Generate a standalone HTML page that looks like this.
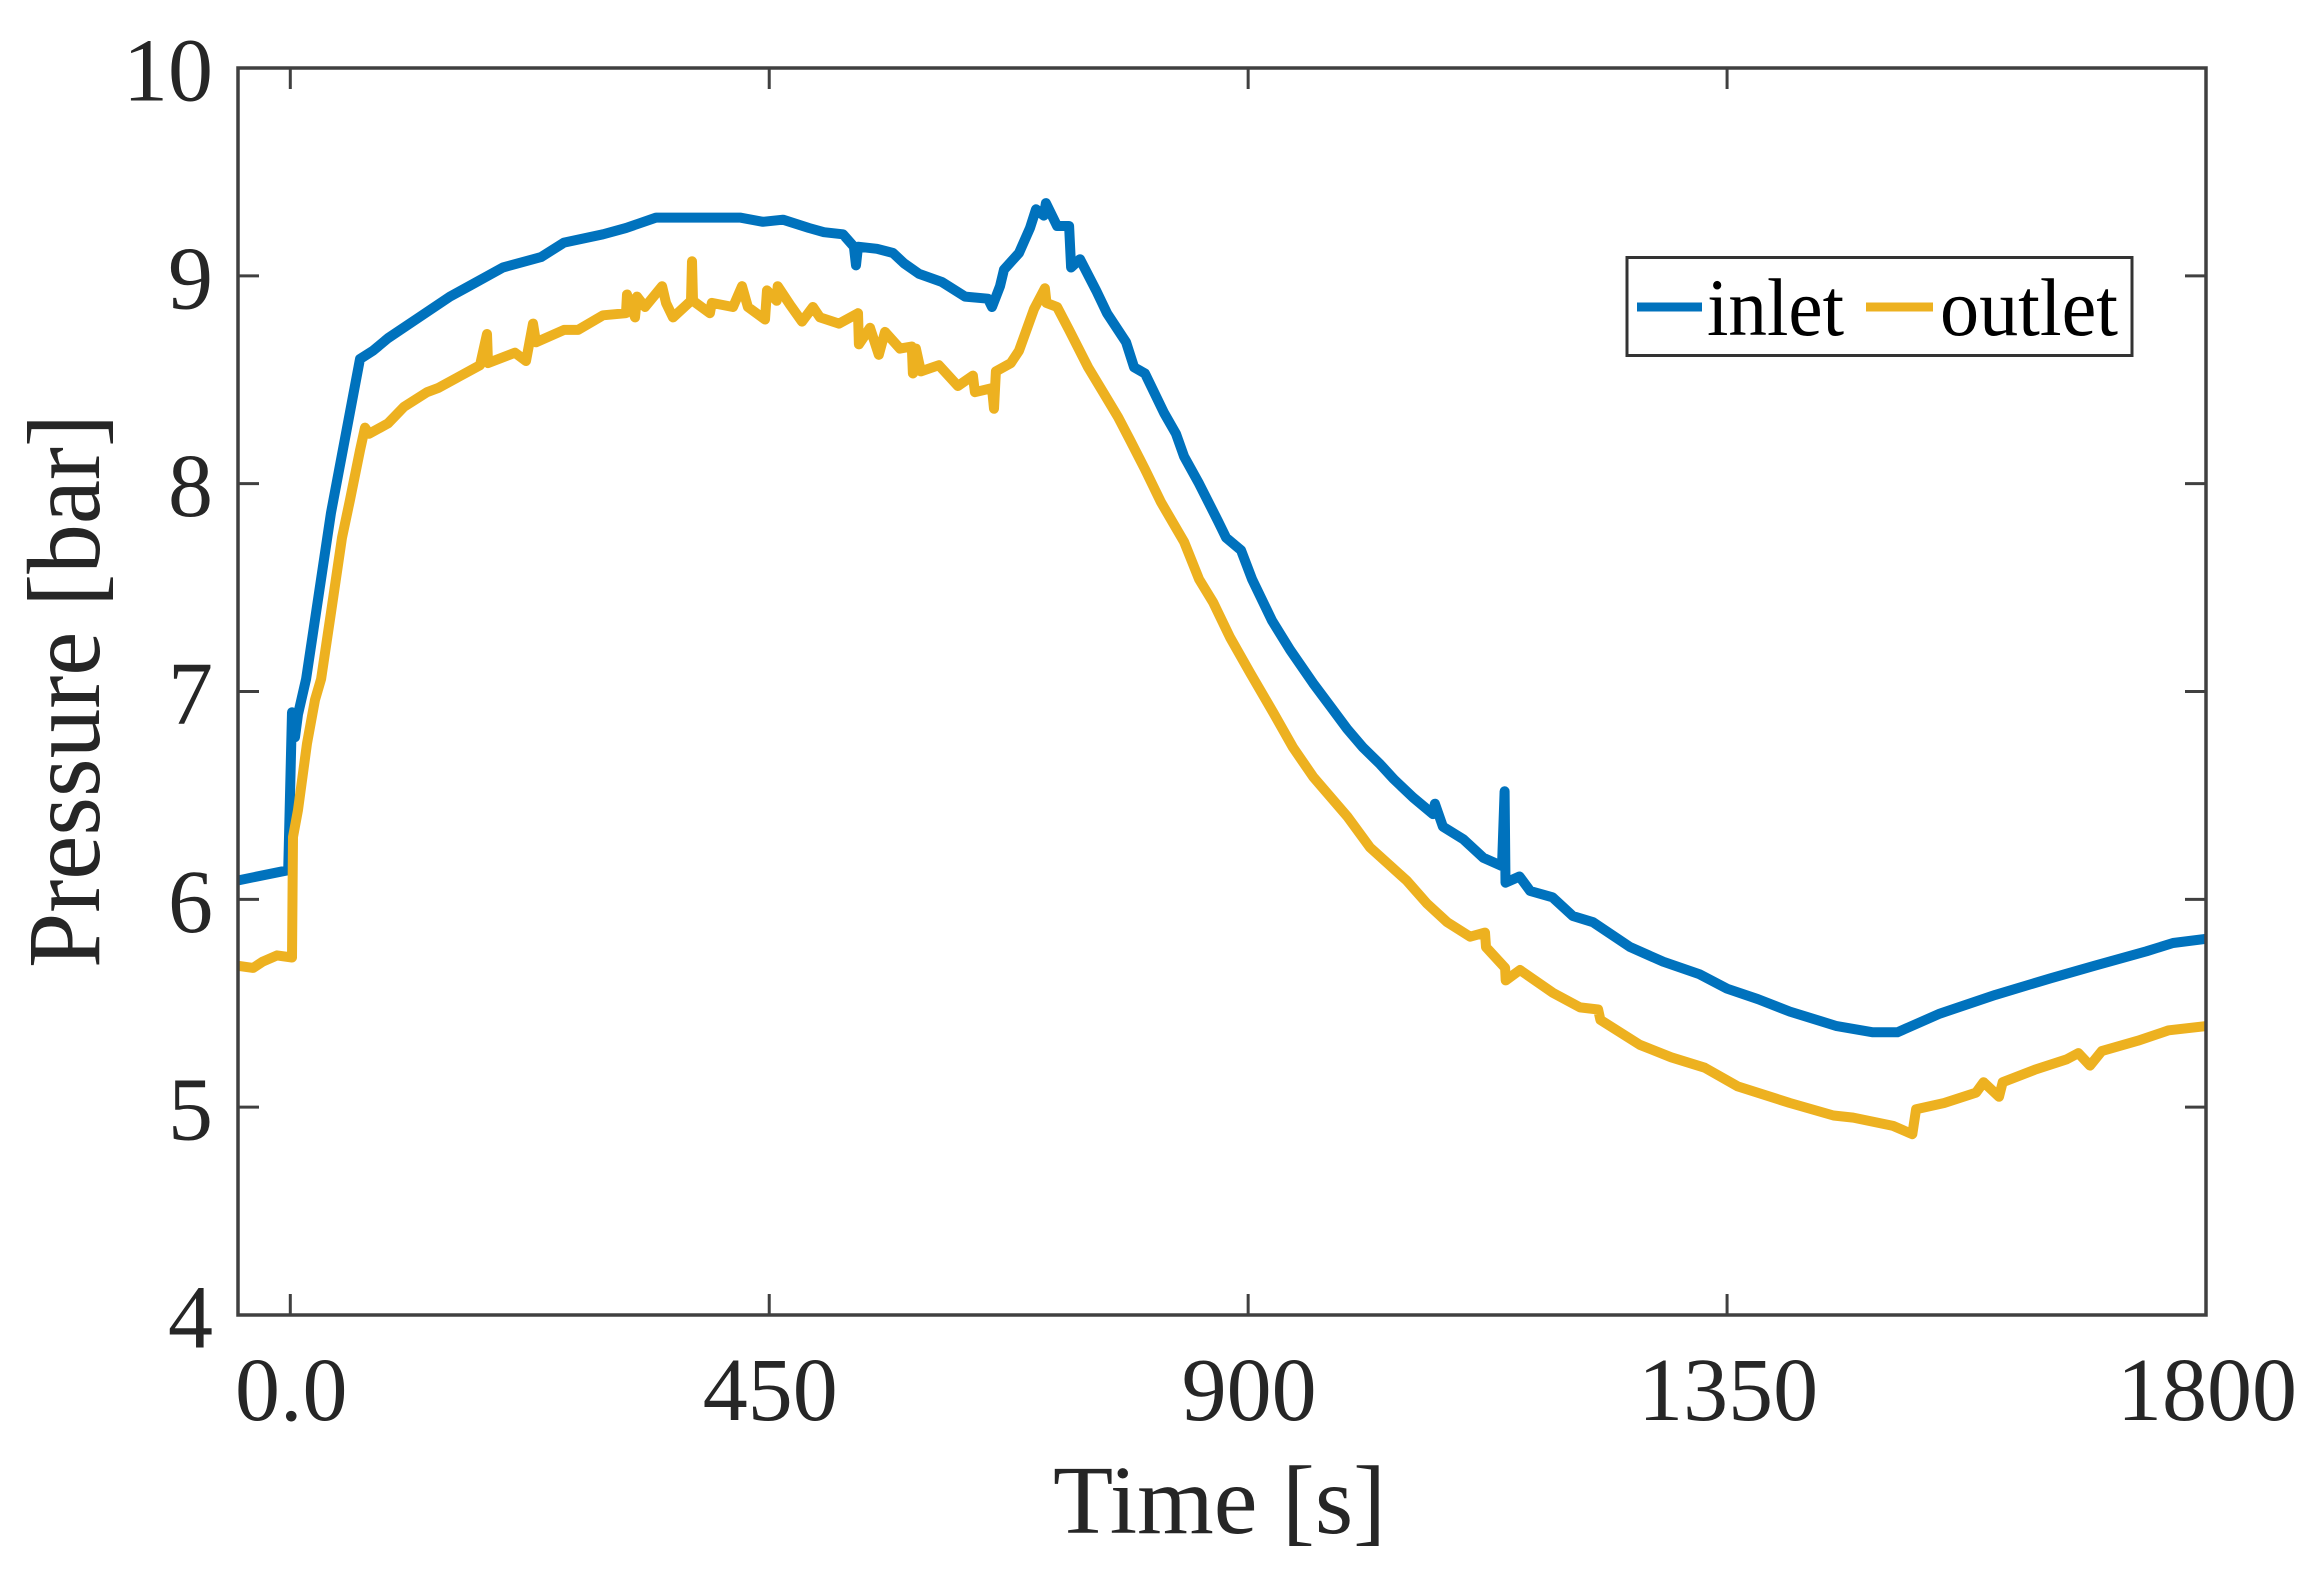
<!DOCTYPE html>
<html lang="en">
<head>
<meta charset="utf-8">
<title>Pressure vs Time</title>
<style>
  html, body { margin: 0; padding: 0; background: #fff; }
  svg { display: block; }
  text { font-family: "Liberation Serif", serif; }
</style>
</head>
<body>
<svg id="chart" xmlns="http://www.w3.org/2000/svg" width="2323" height="1593" viewBox="0 0 2323 1593">
  <rect x="0" y="0" width="2323" height="1593" fill="#ffffff"/>
  <defs>
    <clipPath id="plot-clip"><rect x="238" y="68" width="1968" height="1247"/></clipPath>
  </defs>
  <g id="series" clip-path="url(#plot-clip)"></g>
  <g id="axes"></g>
  <text transform="translate(99,691) rotate(-90)" text-anchor="middle" font-size="104" fill="#262626" textLength="554" lengthAdjust="spacingAndGlyphs">Pressure [bar]</text>
  <text x="1219.5" y="1533" text-anchor="middle" font-size="97" fill="#262626" textLength="333" lengthAdjust="spacingAndGlyphs">Time [s]</text>
  <g>
    <rect x="1627" y="257.5" width="505" height="98" fill="#ffffff" stroke="#333333" stroke-width="3"/>
    <line x1="1637" y1="307" x2="1702" y2="307" stroke="#0072BD" stroke-width="9"/>
    <text x="1707" y="335" font-size="82" fill="#000000" textLength="137" lengthAdjust="spacingAndGlyphs">inlet</text>
    <line x1="1866" y1="307" x2="1933" y2="307" stroke="#EDB120" stroke-width="9"/>
    <text x="1940" y="335" font-size="82" fill="#000000" textLength="178" lengthAdjust="spacingAndGlyphs">outlet</text>
  </g>
</svg>
<script>
const xTicks = [0, 450, 900, 1350, 1800];
const xTickLabels = ['0.0', '450', '900', '1350', '1800'];
const yTicks = [4, 5, 6, 7, 8, 9, 10];
const yTickLabels = ['4', '5', '6', '7', '8', '9', '10'];

const inletTime = [-50,-2,1.6,4.4,7.2,14.8,38.2,65.5,77.7,91.8,120.9,150,167.9,199.8,235.6,257.2,293.8,315.4,343.6,372.7,398.1,422.5,444.1,462.9,487.4,501.4,519.3,529.6,531.5,533.4,551.3,566.3,576.7,590.7,612.4,634,655.5,659.3,666.8,670.6,684.7,695,700.7,708,710,720.5,731.8,733.6,742,757.1,767.4,785.3,792.8,803.1,821,832.2,839.8,853.9,871.7,879.3,893.3,903.7,922.5,939.4,961,977,993,1008,1024,1036.5,1055,1073.7,1075.5,1083,1102,1121,1138.5,1141,1141.8,1155,1165,1186,1205,1224,1259,1290,1324,1350,1379,1409,1453,1487,1510,1550,1602,1654,1695,1744,1769,1800];
const inletPressure = [6.09,6.14,6.90,6.78,6.89,7.06,7.86,8.60,8.64,8.70,8.80,8.90,8.95,9.04,9.09,9.16,9.20,9.23,9.28,9.28,9.28,9.28,9.26,9.27,9.23,9.21,9.20,9.14,9.05,9.14,9.13,9.11,9.06,9.01,8.97,8.90,8.89,8.85,8.95,9.03,9.11,9.23,9.32,9.29,9.35,9.24,9.24,9.04,9.08,8.93,8.82,8.68,8.56,8.53,8.34,8.24,8.13,8.00,7.82,7.74,7.68,7.54,7.34,7.20,7.04,6.93,6.82,6.73,6.65,6.58,6.49,6.41,6.46,6.35,6.29,6.20,6.16,6.52,6.08,6.11,6.04,6.01,5.92,5.89,5.77,5.70,5.64,5.57,5.52,5.46,5.39,5.36,5.36,5.45,5.54,5.62,5.68,5.75,5.79,5.81];

const outletTime = [-49,-35,-26,-12.5,1.6,2.5,7.2,15.7,23.2,28.9,38.2,48.6,56,65.5,70.2,74,91.8,106.8,128.4,138.8,156.6,178.2,184.8,185.8,211.1,221.5,228,230.9,257.2,270.3,293.8,315.4,316.4,323.9,325.8,333.3,349.3,353,359.6,376.5,377.4,378.4,394.3,396,416,424.4,430,446,447.9,457,458,469.6,480.8,491,497.7,515.6,533.4,534.3,544.7,553,558.8,572.9,584,585,587.8,592.5,609.4,627.3,641.4,643.3,659.3,661.2,663,677,684.7,698.8,709,710.5,720.5,731.8,749.6,763.7,777.8,789,803,818.2,839.8,853.9,867,883,901.8,923.4,942.2,961,993,1014.5,1049,1068,1087,1108.5,1122.5,1123.5,1141.4,1142,1155.4,1186.4,1211.8,1228.8,1231,1268,1297.5,1329,1360,1409,1450,1468.5,1506,1524,1527.6,1554,1584,1591,1605.5,1609,1639,1669,1680,1691,1702,1736,1765,1800];
const outletPressure = [5.68,5.67,5.70,5.73,5.72,6.30,6.43,6.75,6.96,7.06,7.38,7.74,7.92,8.16,8.27,8.24,8.29,8.37,8.44,8.46,8.51,8.57,8.72,8.58,8.63,8.59,8.77,8.68,8.74,8.74,8.81,8.82,8.91,8.80,8.90,8.85,8.95,8.87,8.80,8.88,9.07,8.88,8.82,8.87,8.85,8.95,8.85,8.79,8.93,8.88,8.95,8.86,8.78,8.85,8.80,8.77,8.82,8.67,8.75,8.62,8.73,8.65,8.66,8.53,8.65,8.54,8.57,8.47,8.52,8.44,8.46,8.36,8.54,8.58,8.64,8.84,8.94,8.87,8.85,8.74,8.56,8.44,8.32,8.21,8.07,7.91,7.72,7.54,7.43,7.26,7.09,6.90,6.73,6.59,6.40,6.25,6.09,5.98,5.89,5.82,5.84,5.77,5.67,5.61,5.66,5.55,5.48,5.47,5.42,5.30,5.24,5.19,5.10,5.02,4.96,4.95,4.91,4.87,4.99,5.02,5.07,5.12,5.05,5.12,5.18,5.23,5.26,5.20,5.27,5.32,5.37,5.39];

const SVGNS = 'http://www.w3.org/2000/svg';
const plotLeft = 238, plotRight = 2206, plotTop = 68, plotBottom = 1315;
const tickLen = 21;

function xScale(t) { return 290.3 + t * (plotRight - 290.3) / 1800; }
function yScale(p) { return plotBottom - (p - 4) * (plotBottom - plotTop) / 6; }

function buildPoints(times, values) {
  return times.map(function (t, i) {
    return xScale(t).toFixed(1) + ',' + yScale(values[i]).toFixed(1);
  }).join(' ');
}

const seriesGroup = document.getElementById('series');
const axesGroup = document.getElementById('axes');

const inletLine = document.createElementNS(SVGNS, 'polyline');


inletLine.setAttribute('points', buildPoints(inletTime, inletPressure));
inletLine.setAttribute('fill', 'none');
inletLine.setAttribute('stroke', '#0072BD');
inletLine.setAttribute('stroke-width', '10');
inletLine.setAttribute('stroke-linejoin', 'round');
inletLine.setAttribute('stroke-linecap', 'round');
seriesGroup.appendChild(inletLine);

const outletLine = document.createElementNS(SVGNS, 'polyline');


outletLine.setAttribute('points', buildPoints(outletTime, outletPressure));
outletLine.setAttribute('fill', 'none');
outletLine.setAttribute('stroke', '#EDB120');
outletLine.setAttribute('stroke-width', '10');
outletLine.setAttribute('stroke-linejoin', 'round');
outletLine.setAttribute('stroke-linecap', 'round');
seriesGroup.appendChild(outletLine);

const frame = document.createElementNS(SVGNS, 'rect');


frame.setAttribute('x', plotLeft);
frame.setAttribute('y', plotTop);
frame.setAttribute('width', plotRight - plotLeft);
frame.setAttribute('height', plotBottom - plotTop);
frame.setAttribute('fill', 'none');
frame.setAttribute('stroke', '#404040');
frame.setAttribute('stroke-width', '3.5');
axesGroup.appendChild(frame);

function addTick(x1, y1, x2, y2, name) {
  const tick = document.createElementNS(SVGNS, 'line');
  
  
  tick.setAttribute('x1', x1);
  tick.setAttribute('y1', y1);
  tick.setAttribute('x2', x2);
  tick.setAttribute('y2', y2);
  tick.setAttribute('stroke', '#404040');
  tick.setAttribute('stroke-width', '3');
  axesGroup.appendChild(tick);
}

function addLabel(x, y, anchor, content, name) {
  const label = document.createElementNS(SVGNS, 'text');
  
  
  label.setAttribute('x', x);
  label.setAttribute('y', y);
  label.setAttribute('text-anchor', anchor);
  label.setAttribute('font-size', '90');
  label.setAttribute('fill', '#262626');
  label.textContent = content;
  axesGroup.appendChild(label);
}

xTicks.forEach(function (t, i) {
  const x = xScale(t);
  addTick(x, plotBottom, x, plotBottom - tickLen, 'x-tick-bottom');
  addTick(x, plotTop, x, plotTop + tickLen, 'x-tick-top');
  addLabel(x + 1, 1420, 'middle', xTickLabels[i], 'x-tick-label');
});

yTicks.forEach(function (p, i) {
  const y = yScale(p);
  addTick(plotLeft, y, plotLeft + tickLen, y, 'y-tick-left');
  addTick(plotRight, y, plotRight - tickLen, y, 'y-tick-right');
  addLabel(213, y + 32.5, 'end', yTickLabels[i], 'y-tick-label');
});
</script>
</body>
</html>
